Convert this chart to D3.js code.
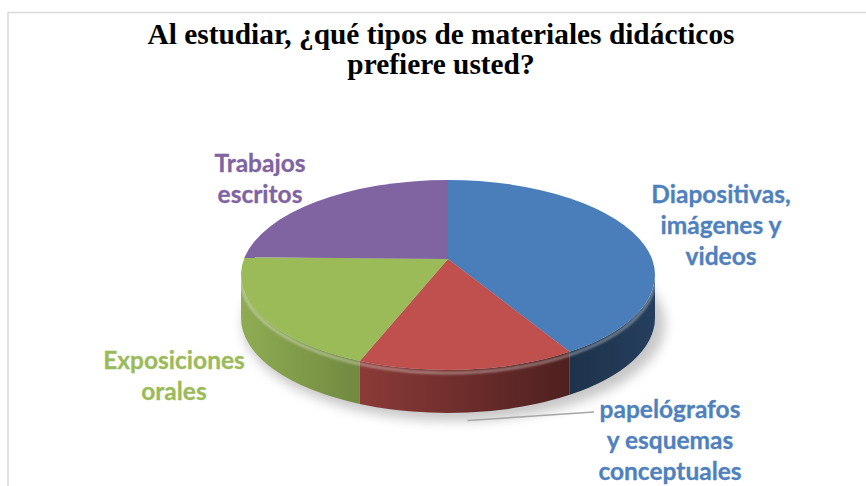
<!DOCTYPE html>
<html>
<head>
<meta charset="utf-8">
<script src="https://d3js.org/d3.v7.min.js"></script>
<style>
  body { margin: 0; background: #fff; }
  svg { display: block; }
</style>
</head>
<body>
<svg id="drawing_region"></svg>
<script>
// data (percent of answers)
const categories = ["Diapositivas, imágenes y videos", "papelógrafos y esquemas conceptuales", "Exposiciones orales", "Trabajos escritos"];
const values = [40, 17, 21, 22];
const labelLines = [
    ["Diapositivas,", "imágenes y", "videos"],
    ["papelógrafos", "y esquemas", "conceptuales"],
    ["Exposiciones", "orales"],
    ["Trabajos", "escritos"]
];
const titleLines = ["Al estudiar, ¿qué tipos de materiales didácticos", "prefiere usted?"];

const colors = ["#4a7ebb", "#c0504d", "#9bbb59", "#8064a2"];
const labelColors = ["#4f81bd", "#4f81bd", "#9bbb59", "#8064a2"];
// label anchor (center x, first baseline y)
const labelPos = [[721, 203], [670, 418], [174, 369], [260, 172]];

const config = {
    width: 866, height: 486,
    cx: 448, cy: 275, rx: 207, ry: 95, depth: 43,
    apex: [448, 259]
};

const svg = d3.select('#drawing_region')
    .attr('width', config.width)
    .attr('height', config.height);

const defs = svg.append('defs');
defs.append('filter').attr('id', 'blur6')
    .attr('x', '-20%').attr('y', '-20%').attr('width', '140%').attr('height', '140%')
    .append('feGaussianBlur').attr('stdDeviation', 6);
defs.append('filter').attr('id', 'blur1')
    .append('feGaussianBlur').attr('stdDeviation', 1.2);

// frame
svg.append('rect')
    .attr('x', 8).attr('y', 12.5)
    .attr('width', 900).attr('height', 600)
    .attr('fill', 'none')
    .attr('stroke', '#d9d9d9')
    .attr('stroke-width', 1.5);

// title
const title = svg.append('g');
const t1 = title.append('text')
    .attr('x', 441).attr('y', 44)
    .attr('text-anchor', 'middle')
    .attr('font-family', '"Liberation Serif", "Times New Roman", serif')
    .attr('font-weight', 'bold')
    .attr('font-size', '30px')
    .attr('fill', '#000')
    .text(titleLines[0]);
const t2 = title.append('text')
    .attr('x', 441).attr('y', 74)
    .attr('text-anchor', 'middle')
    .attr('font-family', '"Liberation Serif", "Times New Roman", serif')
    .attr('font-weight', 'bold')
    .attr('font-size', '30px')
    .attr('fill', '#000')
    .text(titleLines[1]);
const w1 = t1.node().getComputedTextLength();
const w2 = t2.node().getComputedTextLength();
const squeeze = 587 / w1;
t1.attr('textLength', 587).attr('lengthAdjust', 'spacingAndGlyphs');
t2.attr('textLength', w2 * squeeze).attr('lengthAdjust', 'spacingAndGlyphs');

// pie layout, angles from 12 o'clock clockwise
const pie = d3.pie().sort(null).value(d => d)
    .startAngle(0).endAngle(2 * Math.PI);
const arcs = pie(values);

const color = d3.scaleOrdinal().domain(d3.range(values.length)).range(colors);
const xs = d3.scaleLinear().domain([-1, 1]).range([config.cx - config.rx, config.cx + config.rx]);
const ys = d3.scaleLinear().domain([-1, 1]).range([config.cy - config.ry, config.cy + config.ry]);

function rim(a, dz) {
    return [xs(Math.sin(a)), ys(-Math.cos(a)) + (dz || 0)];
}

function topPath(d) {
    const p0 = rim(d.startAngle), p1 = rim(d.endAngle);
    const large = (d.endAngle - d.startAngle) > Math.PI ? 1 : 0;
    return `M${config.apex[0]},${config.apex[1]}L${p0[0]},${p0[1]}` +
        `A${config.rx},${config.ry} 0 ${large} 1 ${p1[0]},${p1[1]}Z`;
}

function sidePath(d) {
    const s0 = Math.max(d.startAngle, Math.PI / 2);
    const s1 = Math.min(d.endAngle, 3 * Math.PI / 2);
    if (s1 <= s0) return null;
    const p0 = rim(s0), p1 = rim(s1);
    const q0 = rim(s0, config.depth), q1 = rim(s1, config.depth);
    return `M${p0[0]},${p0[1]}A${config.rx},${config.ry} 0 0 1 ${p1[0]},${p1[1]}` +
        `L${q1[0]},${q1[1]}A${config.rx},${config.ry} 0 0 0 ${q0[0]},${q0[1]}Z`;
}

// side gradients (light on the left, dark on the right)
const shade = [[0, 0.92], [0.3, 0.72], [0.8, 0.4], [1, 0.5]];
arcs.forEach((d, i) => {
    const g = defs.append('linearGradient')
        .attr('id', 'side' + i)
        .attr('gradientUnits', 'userSpaceOnUse')
        .attr('x1', config.cx - config.rx).attr('x2', config.cx + config.rx)
        .attr('y1', 0).attr('y2', 0);
    const c = d3.rgb(color(i));
    shade.forEach(s => {
        g.append('stop')
            .attr('offset', s[0])
            .attr('stop-color', d3.rgb(c.r * s[1], c.g * s[1], c.b * s[1]));
    });
});

// shadow under the pie
svg.append('ellipse')
    .attr('cx', config.cx + 6).attr('cy', config.cy + config.depth + 6)
    .attr('rx', config.rx + 4).attr('ry', config.ry + 2)
    .attr('fill', '#000')
    .attr('opacity', 0.22)
    .attr('filter', 'url(#blur6)');

const chart = svg.append('g');

chart.selectAll('path.side')
    .data(arcs.filter(d => sidePath(d) !== null))
    .enter()
    .append('path')
    .attr('class', 'side')
    .attr('d', d => sidePath(d))
    .attr('fill', d => `url(#side${d.index})`);

// bevel highlight on the front edge
const hl0 = rim(Math.PI / 2 + 0.05, 3), hl1 = rim(3 * Math.PI / 2 - 0.02, 3);
chart.append('path')
    .attr('d', `M${hl0[0]},${hl0[1]}A${config.rx},${config.ry} 0 0 1 ${hl1[0]},${hl1[1]}`)
    .attr('fill', 'none')
    .attr('stroke', '#fff')
    .attr('stroke-opacity', 0.35)
    .attr('stroke-width', 3)
    .attr('filter', 'url(#blur1)');

chart.selectAll('path.top')
    .data(arcs)
    .enter()
    .append('path')
    .attr('class', 'top')
    .attr('d', d => topPath(d))
    .attr('fill', d => color(d.index));

// leader line for the small slice
const red = arcs[1];
const lp = rim((red.startAngle + red.endAngle) / 2, config.depth + 8);
svg.append('line')
    .attr('x1', lp[0]).attr('y1', lp[1])
    .attr('x2', labelPos[1][0] - 76).attr('y2', labelPos[1][1] - 6)
    .attr('stroke', '#a6a6a6')
    .attr('stroke-width', 1.5);

// labels
labelLines.forEach((lines, i) => {
    const t = svg.append('text')
        .attr('text-anchor', 'middle')
        .attr('font-family', 'Lato, "Open Sans", sans-serif')
        .attr('font-weight', 'bold')
        .attr('font-size', '24.5px')
        .attr('fill', labelColors[i])
        .attr('stroke', labelColors[i])
        .attr('stroke-width', 0.3);
    lines.forEach((l, j) => {
        t.append('tspan')
            .attr('x', labelPos[i][0])
            .attr('y', labelPos[i][1] + j * 31)
            .text(l);
    });
});
</script>
</body>
</html>
